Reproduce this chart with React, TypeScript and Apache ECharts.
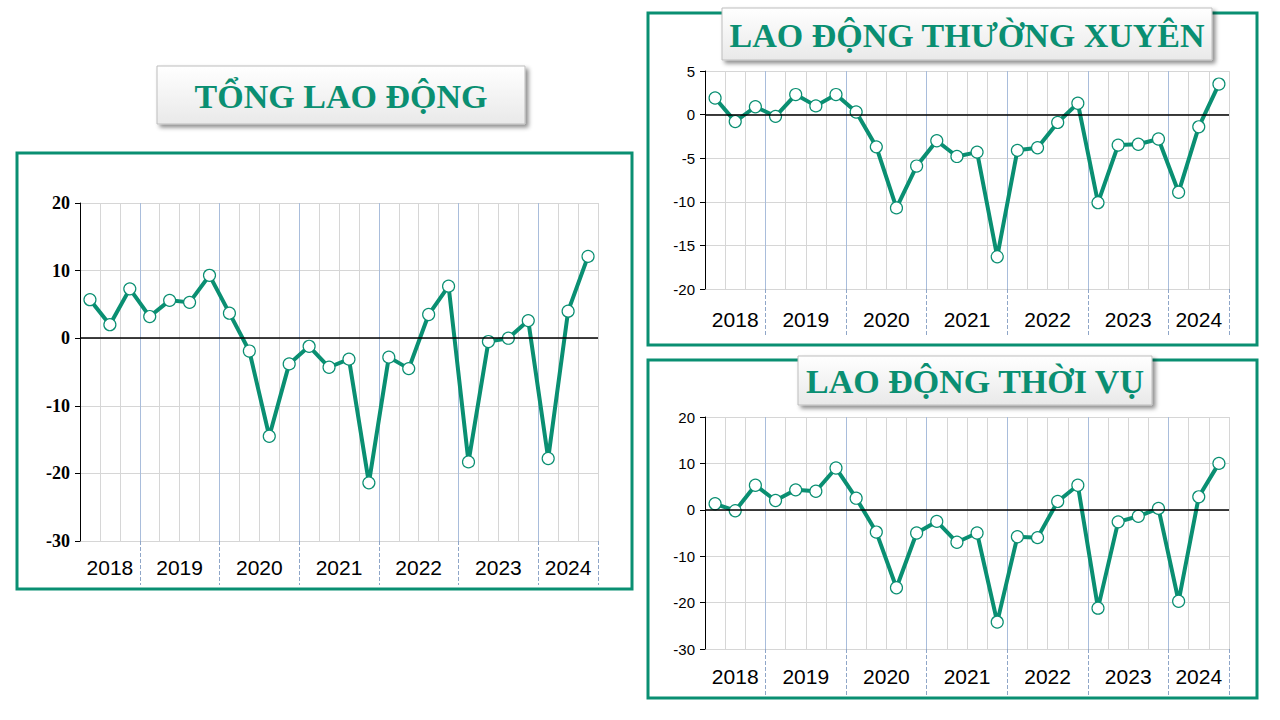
import React, { useEffect, useRef } from "react";
import * as echarts from "echarts";

const quarters = ["Q2/2018","Q3/2018","Q4/2018","Q1/2019","Q2/2019","Q3/2019","Q4/2019","Q1/2020","Q2/2020","Q3/2020","Q4/2020","Q1/2021","Q2/2021","Q3/2021","Q4/2021","Q1/2022","Q2/2022","Q3/2022","Q4/2022","Q1/2023","Q2/2023","Q3/2023","Q4/2023","Q1/2024","Q2/2024","Q3/2024"];
const yearLabels = ["2018","2019","2020","2021","2022","2023","2024"];
const yearRanges = [[0,2],[3,6],[7,10],[11,14],[15,18],[19,22],[23,25]];
const tongLaoDong = [5.7,2.0,7.3,3.2,5.6,5.3,9.3,3.7,-1.9,-14.5,-3.8,-1.2,-4.3,-3.1,-21.4,-2.8,-4.5,3.5,7.7,-18.3,-0.5,0.0,2.6,-17.8,4.0,12.1];
const thuongXuyen = [1.9,-0.8,0.9,-0.2,2.3,1.0,2.3,0.3,-3.7,-10.7,-5.9,-3.0,-4.8,-4.3,-16.3,-4.1,-3.8,-0.9,1.3,-10.1,-3.5,-3.4,-2.8,-8.9,-1.4,3.5];
const thoiVu = [1.3,-0.2,5.3,2.0,4.3,4.0,9.0,2.5,-4.8,-16.8,-5.0,-2.5,-7.0,-5.0,-24.2,-5.8,-6.0,1.8,5.3,-21.2,-2.6,-1.4,0.3,-19.7,2.8,10.0];

const TEAL = "#0a8f72";

const panels = [
  { title: "TỔNG LAO ĐỘNG", data: tongLaoDong, grid: { left: 80, top: 203, width: 518, height: 338 }, min: -30, max: 20, interval: 10,
    box: [17, 153, 615, 436], tbox: [157, 66, 368, 58], yearY: 567, yFont: { fontFamily: "Liberation Serif", fontWeight: "bold", fontSize: 18 }, tick: 44 },
  { title: "LAO ĐỘNG THƯỜNG XUYÊN", data: thuongXuyen, grid: { left: 705, top: 71, width: 524, height: 218 }, min: -20, max: 5, interval: 5,
    box: [648, 13, 609, 332], tbox: [722, 8, 490, 52], yearY: 319, yFont: { fontFamily: "Liberation Sans", fontSize: 15 }, tick: 46 },
  { title: "LAO ĐỘNG THỜI VỤ", data: thoiVu, grid: { left: 705, top: 417, width: 524, height: 232 }, min: -30, max: 20, interval: 10,
    box: [648, 360, 609, 338], tbox: [798, 356, 354, 49], yearY: 676, yFont: { fontFamily: "Liberation Sans", fontSize: 15 }, tick: 46 },
];

export default function App() {
  const ref = useRef<HTMLDivElement>(null);
  useEffect(() => {
    const chart = echarts.init(ref.current!, null, { renderer: "svg" });
    const option: any = {
      animation: false,
      grid: panels.map((p) => ({ ...p.grid })),
      xAxis: panels.map((p, i) => ({
        type: "category", gridIndex: i, data: quarters, boundaryGap: true,
        axisLine: { show: false, onZero: false },
        axisLabel: { show: false },
        axisTick: { show: true, length: p.tick, interval: (idx: number) => idx >= 3 && (idx - 3) % 4 === 0,
          lineStyle: { color: "#8fa6c8", type: "dashed", width: 1 } },
        splitLine: { show: true, interval: 0, lineStyle: { color: ["#d6d6d6", "#d6d6d6", "#d6d6d6", "#a9bddb"] } },
      })),
      yAxis: panels.map((p, i) => ({
        type: "value", gridIndex: i, min: p.min, max: p.max, interval: p.interval,
        axisLine: { show: true, lineStyle: { color: "#000" } },
        axisTick: { show: true, lineStyle: { color: "#000" }, length: 5 },
        axisLabel: { color: "#000", ...p.yFont, margin: 10 },
        splitLine: { show: true, lineStyle: { color: "#d6d6d6" } },
      })),
      series: panels.map((p, i) => ({
        type: "line", xAxisIndex: i, yAxisIndex: i, data: p.data,
        symbol: "circle", symbolSize: 12,
        lineStyle: { color: TEAL, width: 4 },
        itemStyle: { color: "#fff", borderColor: TEAL, borderWidth: 1.2 },
        markLine: { silent: true, symbol: "none", label: { show: false }, lineStyle: { color: "#000", type: "solid", width: 1.5 }, data: [{ yAxis: 0 }] },
      })),
    };
    chart.setOption(option);
    const graphics: any[] = [];
    panels.forEach((p, i) => {
      const [bx, by, bw, bh] = p.box;
      graphics.push({ type: "rect", shape: { x: bx, y: by, width: bw, height: bh }, style: { fill: "none", stroke: TEAL, lineWidth: 3 }, z: 10 });
      const [tx, ty, tw, th] = p.tbox;
      graphics.push({ type: "rect", shape: { x: tx, y: ty, width: tw, height: th },
        style: { fill: new echarts.graphic.LinearGradient(0, 0, 0, 1, [{ offset: 0, color: "#ffffff" }, { offset: 1, color: "#e9e9e9" }]),
          stroke: "#bdbdbd", lineWidth: 1, shadowBlur: 4, shadowOffsetX: 3, shadowOffsetY: 3, shadowColor: "rgba(0,0,0,0.45)" }, z: 20 });
      graphics.push({ type: "text", x: tx + tw / 2, y: ty + th / 2 + 1, z: 21,
        style: { text: p.title, fill: TEAL, font: "bold 34px 'Liberation Serif'", align: "center", verticalAlign: "middle" } });
      yearLabels.forEach((yl, k) => {
        const [a, b] = yearRanges[k];
        const xa = chart.convertToPixel({ xAxisIndex: i }, quarters[a]) as number;
        const xb = chart.convertToPixel({ xAxisIndex: i }, quarters[b]) as number;
        graphics.push({ type: "text", x: (xa + xb) / 2, y: p.yearY, z: 15,
          style: { text: yl, fill: "#000", font: "21px 'Liberation Sans'", align: "center", verticalAlign: "middle" } });
      });
    });
    chart.setOption({ graphic: graphics });
    return () => chart.dispose();
  }, []);
  return <div ref={ref} style={{ position: "absolute", left: 0, top: 0, width: 1280, height: 720, background: "#fff" }} />;
}
